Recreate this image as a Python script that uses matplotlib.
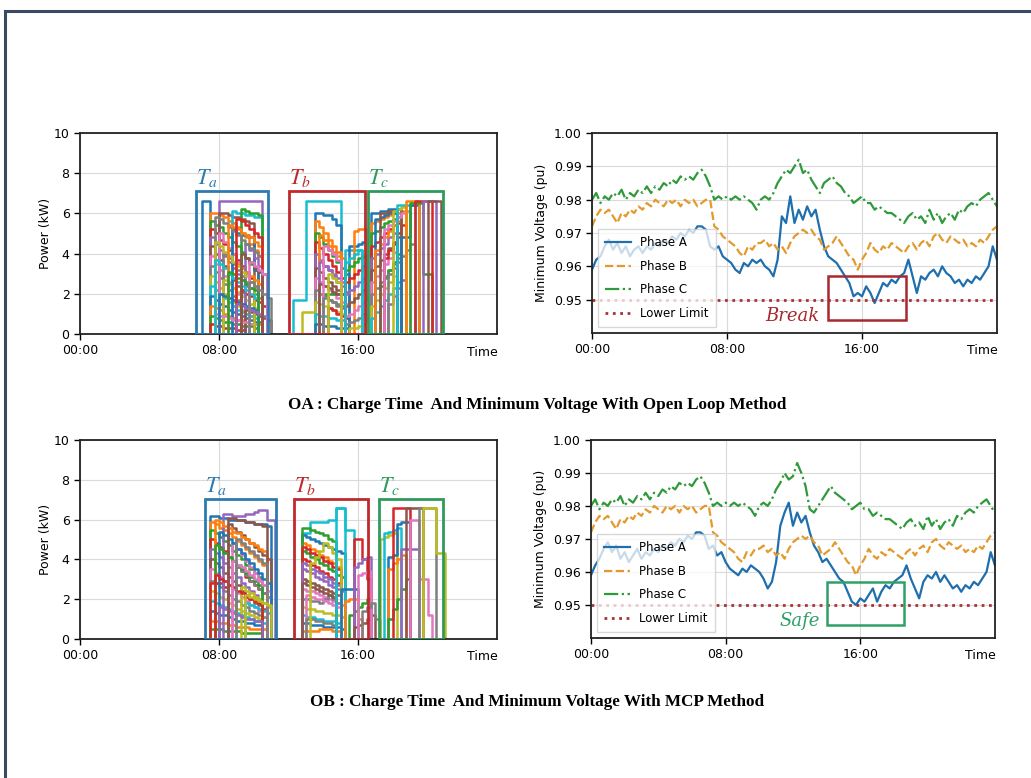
#!/usr/bin/env python3

import numpy as np
import matplotlib
matplotlib.use('Agg')
from matplotlib import pyplot as plt
from matplotlib.patches import Rectangle

plt.rcParams['mathtext.fontset'] = 'stix'

# time ticks
hour_ticks = [0, 8, 16]
hour_labels = ["00:00", "08:00", "16:00"]

# minimum voltage, 15 minute steps from 00:00 to 24:00
oa_phase_a = [
    0.959, 0.962, 0.963, 0.966, 0.968, 0.965, 0.967, 0.964,
    0.966, 0.963, 0.965, 0.966, 0.964, 0.966, 0.965, 0.967,
    0.966, 0.968, 0.967, 0.969, 0.968, 0.970, 0.969, 0.971,
    0.970, 0.972, 0.972, 0.971, 0.966, 0.965, 0.966, 0.963,
    0.962, 0.961, 0.959, 0.958, 0.961, 0.960, 0.962, 0.961,
    0.962, 0.960, 0.959, 0.957, 0.962, 0.975, 0.973, 0.981,
    0.973, 0.977, 0.974, 0.978, 0.975, 0.977, 0.971, 0.966,
    0.963, 0.962, 0.961, 0.959, 0.957, 0.955, 0.951, 0.952,
    0.951, 0.954, 0.952, 0.949, 0.952, 0.955, 0.954, 0.956,
    0.955, 0.957, 0.958, 0.962, 0.957, 0.952, 0.957, 0.956,
    0.958, 0.959, 0.957, 0.960, 0.958, 0.957, 0.955, 0.956,
    0.954, 0.956, 0.955, 0.957, 0.956, 0.958, 0.960, 0.966,
    0.962]
ob_phase_a = [
    0.959, 0.962, 0.964, 0.967, 0.969, 0.966, 0.968, 0.964,
    0.966, 0.963, 0.965, 0.967, 0.964, 0.966, 0.965, 0.967,
    0.966, 0.968, 0.967, 0.969, 0.968, 0.970, 0.969, 0.971,
    0.970, 0.972, 0.972, 0.971, 0.967, 0.968, 0.965, 0.966,
    0.963, 0.961, 0.960, 0.959, 0.961, 0.960, 0.962, 0.961,
    0.960, 0.958, 0.955, 0.957, 0.963, 0.974, 0.978, 0.981,
    0.974, 0.978, 0.975, 0.977, 0.972, 0.968, 0.966, 0.963,
    0.964, 0.962, 0.960, 0.958, 0.957, 0.954, 0.951, 0.950,
    0.952, 0.951, 0.953, 0.955, 0.951, 0.954, 0.956, 0.955,
    0.957, 0.958, 0.959, 0.962, 0.958, 0.955, 0.952, 0.957,
    0.959, 0.958, 0.960, 0.957, 0.959, 0.957, 0.955, 0.956,
    0.954, 0.956, 0.955, 0.957, 0.956, 0.958, 0.960, 0.966,
    0.962]
phase_b = [
    0.972, 0.975, 0.977, 0.976, 0.977, 0.975, 0.973, 0.976,
    0.975, 0.977, 0.976, 0.978, 0.977, 0.979, 0.978, 0.980,
    0.979, 0.978, 0.980, 0.979, 0.980, 0.978, 0.980, 0.979,
    0.980, 0.978, 0.979, 0.980, 0.980, 0.972, 0.971, 0.969,
    0.968, 0.967, 0.966, 0.964, 0.963, 0.966, 0.965, 0.967,
    0.967, 0.968, 0.966, 0.967, 0.965, 0.966, 0.964, 0.967,
    0.969, 0.970, 0.971, 0.970, 0.971, 0.969, 0.968, 0.965,
    0.966, 0.967, 0.969, 0.967, 0.965, 0.963, 0.962, 0.959,
    0.962, 0.964, 0.967, 0.965, 0.964, 0.966, 0.965, 0.967,
    0.966, 0.965, 0.964, 0.966, 0.967, 0.965, 0.967, 0.968,
    0.966, 0.969, 0.970, 0.968, 0.967, 0.969, 0.968, 0.967,
    0.968, 0.966, 0.967, 0.966, 0.968, 0.967, 0.969, 0.971,
    0.972]
oa_phase_c = [
    0.980, 0.982, 0.979, 0.981, 0.980, 0.982, 0.981, 0.983,
    0.980, 0.982, 0.981, 0.983, 0.982, 0.984, 0.982, 0.984,
    0.983, 0.985, 0.984, 0.986, 0.985, 0.987, 0.986, 0.987,
    0.986, 0.988, 0.989, 0.987, 0.984, 0.980, 0.981, 0.980,
    0.981, 0.980, 0.981, 0.980, 0.981, 0.980, 0.979, 0.977,
    0.980, 0.981, 0.980, 0.982, 0.985, 0.987, 0.989, 0.988,
    0.990, 0.992, 0.988, 0.989, 0.986, 0.984, 0.982, 0.985,
    0.986, 0.987, 0.985, 0.984, 0.982, 0.981, 0.979, 0.980,
    0.981, 0.979, 0.979, 0.977, 0.978, 0.977, 0.976, 0.976,
    0.975, 0.974, 0.973, 0.975, 0.976, 0.974, 0.975, 0.973,
    0.977, 0.974, 0.976, 0.973, 0.975, 0.976, 0.974, 0.977,
    0.976, 0.978, 0.979, 0.978, 0.980, 0.981, 0.982, 0.980,
    0.978]
ob_phase_c = [
    0.980, 0.982, 0.979, 0.981, 0.980, 0.982, 0.981, 0.983,
    0.980, 0.982, 0.981, 0.983, 0.982, 0.984, 0.982, 0.984,
    0.983, 0.985, 0.984, 0.986, 0.985, 0.987, 0.986, 0.987,
    0.986, 0.988, 0.989, 0.987, 0.984, 0.980, 0.981, 0.980,
    0.981, 0.980, 0.981, 0.980, 0.981, 0.980, 0.979, 0.977,
    0.980, 0.981, 0.980, 0.982, 0.985, 0.987, 0.990, 0.988,
    0.989, 0.993, 0.990, 0.986, 0.979, 0.978, 0.980, 0.982,
    0.984, 0.986, 0.984, 0.983, 0.982, 0.981, 0.979, 0.980,
    0.981, 0.979, 0.979, 0.977, 0.978, 0.977, 0.976, 0.976,
    0.975, 0.974, 0.973, 0.975, 0.976, 0.974, 0.975, 0.973,
    0.977, 0.974, 0.976, 0.973, 0.975, 0.976, 0.974, 0.977,
    0.976, 0.978, 0.979, 0.978, 0.980, 0.981, 0.982, 0.980,
    0.978]
lower_limit = 0.95

# EV charging profiles: (start hour, power in kW per 15 minute slot)
SLOT = 0.25
oa_profiles = [
    # Ta
    (7.00, [6.6, 6.6]),
    (7.50, [6.0, 6.0, 5.9, 5.8, 5.6, 5.5, 5.3, 5.0, 4.8, 4.5, 4.2, 3.9]),
    (7.50, [5.6, 5.4, 5.3, 5.0, 4.8, 4.6, 4.4, 4.1, 3.8, 3.5, 3.2]),
    (7.50, [5.2, 5.0, 4.7, 4.5, 4.2, 4.0, 3.7, 3.4, 3.1, 2.8]),
    (7.50, [4.8, 4.5, 4.2, 3.9, 3.6, 3.3, 3.0, 2.7, 2.4]),
    (7.50, [4.4, 4.0, 3.7, 3.4, 3.0, 2.7, 2.4, 2.1]),
    (7.50, [3.9, 3.5, 3.2, 2.9, 2.6, 2.3, 2.0]),
    (7.50, [3.4, 3.1, 2.8, 2.5, 2.2, 1.9, 1.7, 1.5, 1.3]),
    (7.50, [2.9, 2.6, 2.3, 2.0, 1.8, 1.6, 1.4, 1.2, 1.0, 0.9]),
    (7.50, [2.4, 2.2, 2.0, 1.8, 1.6, 1.4, 1.2, 1.1, 1.0, 0.9, 0.8]),
    (7.50, [1.9, 1.7, 1.5, 1.4, 1.2, 1.1, 1.0, 0.9, 0.8, 0.7, 0.6, 0.6]),
    (7.50, [1.4, 1.3, 1.2, 1.0, 0.9, 0.8, 0.7, 0.7, 0.6, 0.5, 0.5, 0.5]),
    (7.50, [0.9, 0.8, 0.7, 0.6, 0.6, 0.5, 0.5, 0.4, 0.4, 0.4, 0.3]),
    (7.50, [0.5, 0.4, 0.4, 0.3, 0.3, 0.3, 0.2, 0.2]),
    (8.00, [6.6, 6.6, 6.6, 6.6, 6.6, 6.6, 6.6, 6.6, 6.6, 6.6]),
    (8.00, [6.0, 6.0, 5.9, 5.8, 5.8, 5.7, 5.6, 5.5]),
    (8.00, [5.0, 4.6, 4.3, 4.0, 3.6, 3.3, 3.0, 2.6, 2.3]),
    (8.25, [4.0, 3.8, 3.5, 3.2, 2.9, 2.6, 2.3, 2.0, 1.8]),
    (8.25, [2.7, 2.5, 2.3, 2.1, 1.9, 1.7, 1.5, 1.3]),
    (8.75, [6.1, 6.0, 6.0, 5.9, 5.9, 5.8, 5.8]),
    (8.75, [5.2, 5.0, 4.9, 4.9, 4.8, 3.2]),
    (9.00, [3.5, 3.3, 3.1, 2.9, 2.7, 2.5]),
    (9.25, [6.2, 6.1, 6.0, 6.0, 5.9]),
    (9.25, [2.2, 2.0, 1.9, 1.7, 1.6, 1.4]),
    (9.50, [4.5, 4.2, 3.8, 3.4, 3.0]),
    (9.50, [1.2, 1.1, 1.0, 0.9, 0.8, 0.7]),
    (7.75, [1.0, 0.9, 0.9, 0.8, 0.7, 0.7, 0.6, 0.6, 0.5, 0.5]),
    (7.75, [5.8, 5.7, 5.5, 5.3, 5.1, 4.9, 4.7, 4.5, 4.3, 4.1, 3.9]),
    (7.75, [4.6, 4.4, 4.1, 3.9, 3.6, 3.4, 3.1, 2.9, 2.6]),
    (7.75, [3.7, 3.5, 3.3, 3.0, 2.8, 2.6, 2.4, 2.2, 2.0, 1.8]),
    (8.00, [2.0, 1.9, 1.8, 1.7, 1.6, 1.5, 1.4, 1.3, 1.2]),
    (8.50, [5.4, 5.3, 5.2, 5.0, 4.9, 4.8, 4.6, 4.4]),
    (8.50, [3.1, 3.0, 2.8, 2.7, 2.5, 2.3, 2.2]),
    (9.00, [5.7, 5.6, 5.4, 5.2, 5.0, 4.8]),
    (9.00, [1.5, 1.4, 1.3, 1.2, 1.1, 1.0, 0.9]),
    (9.25, [4.0, 3.8, 3.6, 3.3, 3.1]),
    (9.75, [3.6, 3.4, 3.2, 3.0]),
    (9.75, [2.6, 2.4, 2.2, 2.0, 1.8]),
    # Tb
    (12.75, [1.1, 1.1, 1.1]),
    (12.25, [1.7, 1.7, 1.7, 6.6, 6.6, 6.6, 6.6, 6.6, 6.6, 6.6, 6.6]),
    (13.50, [6.0, 6.0, 5.9, 5.9, 5.7, 5.4]),
    (13.50, [5.6, 5.3, 5.0, 4.7, 4.4, 4.1, 3.8]),
    (13.50, [5.0, 4.8, 4.5, 4.2, 3.9, 3.6, 3.3, 3.0]),
    (13.50, [4.6, 4.3, 4.0, 3.7, 3.4, 3.1, 2.8]),
    (13.50, [4.0, 3.7, 3.4, 3.2, 2.9, 2.6, 2.4, 2.1]),
    (13.50, [3.3, 3.1, 2.8, 2.6, 2.4, 2.2, 2.0]),
    (13.50, [2.8, 2.6, 2.4, 2.2, 2.0, 1.8, 1.6, 1.5]),
    (13.50, [2.2, 2.0, 1.9, 1.7, 1.6, 1.4, 1.3]),
    (13.50, [1.6, 1.5, 1.4, 1.3, 1.2, 1.1, 1.0, 0.9]),
    (13.50, [1.0, 0.9, 0.9, 0.8, 0.8, 0.7, 0.7]),
    (13.50, [0.5, 0.5, 0.4, 0.4, 0.4, 0.3, 0.3, 0.3]),
    (13.75, [4.9, 4.7, 4.4, 4.1, 3.9]),
    (14.00, [2.0, 2.0, 2.0, 2.0, 2.0]),
    (14.25, [1.3, 1.2, 1.0, 0.9, 0.8]),
    (13.75, [3.6, 3.4, 3.2, 3.0, 2.8, 2.6]),
    (13.75, [2.5, 2.4, 2.3, 2.1, 2.0]),
    (14.00, [4.4, 4.2, 4.0, 3.7]),
    (14.00, [1.8, 1.7, 1.6, 1.5, 1.4]),
    (14.25, [3.0, 2.8, 2.6]),
    (15.25, [4.2, 4.2, 4.2, 4.2]),
    (15.50, [4.4, 4.4, 4.5, 4.6]),
    (15.75, [5.1, 5.2, 5.2]),
    (15.25, [3.2, 3.4, 3.6, 3.8, 3.9]),
    (15.25, [2.6, 2.8, 3.0, 3.2, 3.4]),
    (15.25, [2.0, 2.2, 2.4, 2.6, 2.8]),
    (15.25, [1.4, 1.6, 1.8, 2.0, 2.2]),
    (15.25, [0.9, 1.0, 1.2, 1.4, 1.6]),
    (15.25, [0.5, 0.6, 0.7, 0.8, 1.0]),
    (15.50, [0.3, 0.3, 0.4, 0.5]),
    (15.25, [3.6, 3.8, 4.0, 4.2]),
    # Tc
    (16.75, [6.0, 6.0, 6.1, 6.1, 6.2, 6.2]),
    (16.75, [5.5, 5.6, 5.7, 5.8, 5.9, 6.0, 6.0, 6.1]),
    (16.75, [5.0, 5.1, 5.3, 5.5, 5.6, 5.7, 5.8]),
    (16.75, [4.4, 4.6, 4.8, 5.0, 5.2, 5.4, 5.5]),
    (16.75, [3.8, 4.0, 4.3, 4.5, 4.8, 5.0]),
    (16.75, [3.2, 3.4, 3.7, 4.0, 4.3, 4.5, 4.8]),
    (16.75, [2.6, 2.9, 3.2, 3.5, 3.8, 4.1]),
    (16.75, [2.0, 2.3, 2.6, 2.9, 3.2, 3.5, 3.8]),
    (16.75, [1.4, 1.7, 2.0, 2.3, 2.6, 2.9]),
    (16.75, [0.8, 1.1, 1.4, 1.7, 2.0, 2.3, 2.6]),
    (17.00, [5.7, 5.8, 5.9, 6.0, 6.0]),
    (17.00, [4.2, 4.5, 4.8, 5.1, 5.4, 5.6]),
    (17.25, [2.4, 2.8, 3.2, 3.6, 4.0]),
    (17.50, [3.8, 4.2, 4.6, 5.0, 5.4]),
    (17.75, [1.5, 1.9, 2.3, 2.7]),
    (17.25, [6.0, 6.0, 6.1, 6.1, 6.2]),
    (17.50, [5.2, 5.4, 5.6, 5.8, 6.0, 6.1]),
    (17.75, [3.0, 3.3, 3.6, 3.9, 4.2, 4.5]),
    (18.00, [6.1, 6.2, 6.3]),
    (18.25, [6.4, 6.4, 6.4, 6.4]),
    (18.50, [4.8, 4.8, 6.4, 6.4]),
    (18.75, [6.6, 6.6, 6.6]),
    (19.00, [6.5, 6.5, 6.5, 3.0, 3.0]),
    (19.25, [6.6, 6.6, 6.6, 6.6]),
    (19.75, [6.6, 6.6, 6.6]),
    (20.00, [6.6, 6.6, 6.6]),
]
ob_profiles = [
    # Ta
    (7.50, [6.2, 6.2, 6.1, 6.1, 6.0, 6.0, 6.0, 6.0, 5.9, 5.9, 5.8, 5.8, 5.8, 5.7]),
    (7.50, [5.9, 5.8, 5.6, 5.5, 5.3, 5.1, 4.9, 4.7, 4.5, 4.3, 4.1, 3.9, 3.7]),
    (7.50, [5.5, 5.3, 5.1, 4.9, 4.7, 4.4, 4.2, 4.0, 3.7, 3.5, 3.3, 3.1]),
    (7.50, [5.0, 4.8, 4.6, 4.4, 4.1, 3.9, 3.6, 3.4, 3.1, 2.9, 2.7, 2.5, 2.3]),
    (7.50, [4.5, 4.3, 4.1, 3.8, 3.6, 3.3, 3.1, 2.8, 2.6, 2.4, 2.2, 2.0]),
    (7.50, [4.0, 3.8, 3.6, 3.3, 3.1, 2.9, 2.7, 2.4, 2.2, 2.0, 1.8, 1.7, 1.5]),
    (7.50, [3.5, 3.3, 3.1, 2.9, 2.7, 2.5, 2.3, 2.1, 1.9, 1.7, 1.6, 1.4]),
    (7.50, [2.9, 2.8, 2.6, 2.4, 2.2, 2.0, 1.9, 1.7, 1.6, 1.4, 1.3, 1.2, 1.1]),
    (7.50, [2.4, 2.3, 2.1, 2.0, 1.8, 1.7, 1.5, 1.4, 1.3, 1.2, 1.1, 1.0]),
    (7.50, [1.9, 1.8, 1.7, 1.6, 1.5, 1.4, 1.3, 1.2, 1.1, 1.0, 0.9, 0.9, 0.8]),
    (7.50, [1.4, 1.3, 1.2, 1.2, 1.1, 1.0, 0.9, 0.9, 0.8, 0.8, 0.7, 0.7]),
    (7.50, [0.9, 0.9, 0.8, 0.8, 0.7, 0.7, 0.6, 0.6, 0.6, 0.5, 0.5, 0.5, 0.5]),
    (7.50, [0.5, 0.5, 0.5, 0.4, 0.4, 0.4, 0.4, 0.3, 0.3, 0.3, 0.3, 0.3]),
    (7.50, [2.8, 2.8, 2.8, 2.6]),
    (8.25, [6.3, 6.3, 6.2, 6.2, 6.2, 6.3, 6.3, 6.4, 6.5, 6.5, 6.0, 6.0]),
    (8.50, [5.8, 5.6, 5.4, 5.2, 5.0, 4.8, 4.6, 4.4, 4.2, 4.0]),
    (8.75, [4.8, 4.5, 4.2, 3.9, 3.6, 3.3, 3.0, 2.7, 2.4]),
    (9.00, [3.6, 3.4, 3.2, 2.9, 2.7, 2.5, 2.3, 2.1]),
    (9.25, [2.6, 2.4, 2.3, 2.1, 2.0, 1.8, 1.6]),
    (9.50, [1.8, 1.7, 1.6, 1.5, 1.4, 1.3]),
    (8.00, [5.4, 5.2, 5.0, 4.8, 4.5, 4.3, 4.0, 3.8, 3.5, 3.3, 3.0, 2.8]),
    (7.75, [6.0, 5.9, 5.7, 5.6, 5.4, 5.3, 5.1, 5.0, 4.8, 4.7, 4.5, 4.4]),
    (7.75, [4.7, 4.5, 4.3, 4.1, 3.9, 3.7, 3.5, 3.3, 3.1, 2.9, 2.7]),
    (7.75, [3.2, 3.0, 2.9, 2.7, 2.6, 2.4, 2.3, 2.1, 2.0, 1.9, 1.8]),
    (8.00, [1.6, 1.5, 1.4, 1.3, 1.2, 1.1, 1.0, 1.0, 0.9, 0.9]),
    (8.50, [6.1, 6.1, 6.0, 6.0, 5.9, 5.9, 5.8, 5.8, 5.7]),
    (8.75, [3.9, 3.7, 3.6, 3.4, 3.2, 3.0, 2.9, 2.7]),
    (9.00, [5.0, 4.8, 4.6, 4.4, 4.2, 4.0, 3.8]),
    (9.50, [2.2, 2.1, 2.0, 1.9, 1.8, 1.7]),
    # Tb
    (12.75, [5.3, 5.3, 5.9, 5.9, 5.9, 5.9, 6.0, 6.0, 6.6, 6.6, 5.5, 5.5]),
    (12.75, [5.2, 5.1, 5.0, 4.9, 4.8, 4.7, 4.6, 4.5, 4.4, 4.3]),
    (12.75, [4.8, 4.7, 4.5, 4.4, 4.2, 4.1, 3.9, 3.8, 3.6]),
    (12.75, [4.4, 4.3, 4.1, 4.0, 3.8, 3.7, 3.5, 3.4, 3.2, 3.1]),
    (12.75, [4.0, 3.9, 3.7, 3.6, 3.4, 3.3, 3.1, 3.0, 2.8]),
    (12.75, [3.5, 3.4, 3.3, 3.1, 3.0, 2.9, 2.7, 2.6, 2.5, 2.4]),
    (12.75, [3.0, 2.9, 2.8, 2.7, 2.6, 2.5, 2.4, 2.3, 2.2]),
    (12.75, [2.5, 2.4, 2.4, 2.3, 2.2, 2.1, 2.0, 1.9, 1.8, 1.7]),
    (12.75, [2.0, 2.0, 1.9, 1.9, 1.8, 2.0, 2.2, 2.0, 1.8]),
    (12.75, [1.6, 1.5, 1.5, 1.4, 1.4, 1.3, 1.3, 1.2, 1.2, 1.1]),
    (12.75, [1.2, 1.1, 1.1, 1.0, 1.0, 0.9, 0.9, 0.9, 0.8]),
    (12.75, [0.8, 0.8, 0.7, 0.7, 0.7, 0.6, 0.6, 0.6, 0.6, 0.5]),
    (12.75, [0.4, 0.4, 0.4, 0.4, 0.5, 0.5, 0.5, 0.4, 0.4]),
    (12.75, [5.6, 5.6, 5.5, 5.4, 5.3, 5.2, 5.0, 4.9]),
    (12.75, [4.6, 4.5, 4.3, 4.2, 4.1, 3.9, 3.8, 3.6, 3.5]),
    (12.75, [3.8, 3.7, 3.5, 3.4, 3.3, 3.1, 3.0, 2.8, 2.7]),
    (12.75, [2.8, 2.7, 2.6, 2.5, 2.4, 2.3, 2.2, 2.1]),
    (13.00, [2.2, 2.1, 2.0, 2.0, 1.9, 1.8, 1.7, 1.6]),
    (13.00, [1.0, 1.0, 0.9, 0.9, 0.8, 0.8, 0.7]),
    (13.25, [3.8, 4.1, 4.4, 4.8, 4.6, 4.3, 4.0]),
    (14.75, [6.6, 6.6]),
    (15.00, [2.5, 2.5, 2.5, 2.5]),
    (15.25, [1.9, 2.0, 2.0, 1.0]),
    (15.50, [1.2, 1.4, 1.6, 1.8, 2.0]),
    (15.75, [5.0, 5.0, 4.0, 3.0]),
    (15.75, [3.6, 3.8, 4.0, 4.1]),
    (15.75, [0.6, 0.7, 0.8, 1.0, 1.2]),
    (16.00, [3.2, 3.3, 3.4]),
    (16.25, [1.4, 1.6, 1.8, 1.0]),
    # Tc
    (17.25, [5.0, 5.1, 5.2, 5.3]),
    (17.50, [5.3, 5.4, 5.5, 5.6]),
    (17.75, [4.1, 4.2, 5.8, 5.9, 5.9]),
    (17.75, [3.5, 3.8, 4.0, 4.2]),
    (17.75, [1.0, 1.5, 2.0, 2.5, 3.0]),
    (18.00, [6.6, 6.6, 6.6, 6.6]),
    (18.50, [4.5, 4.5, 4.5, 4.5]),
    (18.75, [6.6, 6.6, 6.6, 6.6]),
    (19.00, [6.0, 6.0, 3.0, 3.0, 1.2]),
    (19.50, [6.6, 6.6, 6.6, 6.6]),
    (19.75, [6.6, 6.6, 6.6, 4.3, 4.3]),
]

# period boxes: (label, left hour, right hour, top kW, colour)
oa_periods = [("a", 6.7, 10.8, 7.1, "#2b7bb0"),
              ("b", 12.0, 16.4, 7.1, "#c0282d"),
              ("c", 16.6, 20.9, 7.1, "#2e9a5c")]
ob_periods = [("a", 7.2, 11.3, 7.05, "#2b7bb0"),
              ("b", 12.3, 16.6, 7.05, "#c0282d"),
              ("c", 17.2, 20.9, 7.05, "#2e9a5c")]


def style_axes(ax):
    ax.set_xlim(0, 24)
    ax.set_xticks(hour_ticks)
    ax.set_xticklabels(hour_labels)
    ax.grid(True, color="#dadada", linewidth=0.8)
    ax.set_axisbelow(True)
    ax.tick_params(labelsize=9, length=4, width=1)
    for s in ax.spines.values():
        s.set_color("#222222")
        s.set_linewidth(1.3)
    ax.text(0.965, -0.09, "Time", transform=ax.transAxes, ha="center", va="center", fontsize=9)


def plot_power(ax, profiles, periods):
    for (start, levels) in profiles:
        t = start + SLOT * np.arange(len(levels) + 1)
        x = np.repeat(t, 2)
        y = np.concatenate([[0], np.repeat(levels, 2), [0]])
        ax.plot(x, y, linewidth=1.8)
    for (name, left, right, top, color) in periods:
        ax.add_patch(Rectangle((left, 0), right - left, top, fill=False,
                               edgecolor=color, linewidth=2, zorder=5))
        ax.text(left, top + 0.1, "$T_%s$" % name, color=color, fontsize=16,
                ha="left", va="bottom")
    ax.set_ylim(0, 10)
    ax.set_yticks(range(0, 11, 2))
    ax.set_ylabel("Power (kW)", fontsize=9, labelpad=1)
    style_axes(ax)


def plot_voltage(ax, a, b, c, box_color, word, word_x):
    hours = SLOT * np.arange(len(a))
    ax.plot(hours, a, color="#1f6fae", linewidth=1.6, label="Phase A")
    ax.plot(hours, b, color="#e39a2d", linewidth=1.6, linestyle="--", label="Phase B")
    ax.plot(hours, c, color="#2e9a3a", linewidth=1.6, linestyle="-.", label="Phase C")
    ax.axhline(lower_limit, color="#a83236", linewidth=2, linestyle=":", label="Lower Limit")
    ax.add_patch(Rectangle((14.0, 0.9438), 4.6, 0.0132, fill=False,
                           edgecolor=box_color, linewidth=1.8, zorder=5))
    ax.text(word_x, 0.9452, word, color=box_color, fontsize=13, style="italic",
            family="DejaVu Serif", ha="center", va="center")
    ax.set_ylim(0.94, 1.0)
    ax.set_yticks([0.95, 0.96, 0.97, 0.98, 0.99, 1.00])
    ax.set_yticklabels(["0.95", "0.96", "0.97", "0.98", "0.99", "1.00"])
    ax.set_ylabel("Minimum Voltage (pu)", fontsize=9)
    ax.legend(loc="lower left", fontsize=8.5, framealpha=0.75, labelspacing=0.9,
              borderpad=0.6, handlelength=2.2, fancybox=False, edgecolor="#cccccc")
    style_axes(ax)


fig = plt.figure(figsize=(10.31, 7.78), dpi=100)

ax1 = fig.add_axes([0.0776, 0.5707, 0.4045, 0.2584])
ax2 = fig.add_axes([0.5742, 0.5720, 0.3928, 0.2570])
ax3 = fig.add_axes([0.0776, 0.1787, 0.4045, 0.2558])
ax4 = fig.add_axes([0.5732, 0.1800, 0.3918, 0.2545])

plot_power(ax1, oa_profiles, oa_periods)
plot_voltage(ax2, oa_phase_a, phase_b, oa_phase_c, "#a8282d", "Break", 11.9)
plot_power(ax3, ob_profiles, ob_periods)
plot_voltage(ax4, ob_phase_a, phase_b, ob_phase_c, "#2ea066", "Safe", 12.4)

fig.text(0.521, 1 - 405 / 778, "OA : Charge Time  And Minimum Voltage With Open Loop Method",
         family="Liberation Serif", weight="bold", fontsize=12.3, ha="center", va="center")
fig.text(0.521, 1 - 702 / 778, "OB : Charge Time  And Minimum Voltage With MCP Method",
         family="Liberation Serif", weight="bold", fontsize=12.3, ha="center", va="center")

# outer frame
fig.patches.append(Rectangle((5 / 1031, -0.05), 1.1, 1 - 11 / 778 + 0.05, fill=False,
                             edgecolor="#3b4a63", linewidth=2.2,
                             transform=fig.transFigure, figure=fig))

plt.savefig("out.png", dpi=100)
